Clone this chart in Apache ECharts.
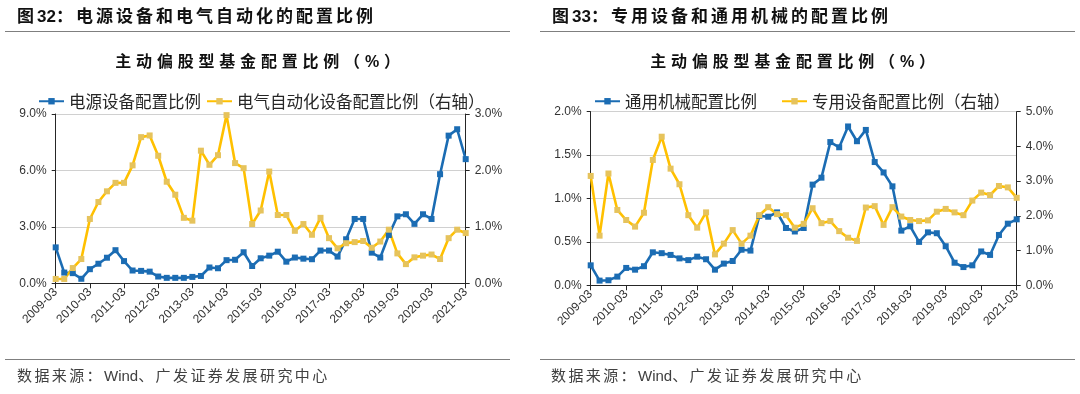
<!DOCTYPE html>
<html><head><meta charset="utf-8">
<script src="https://cdn.jsdelivr.net/npm/echarts@6/dist/echarts.min.js"></script>
<style>
html,body{margin:0;padding:0;background:#fff;}
#wrap{position:relative;width:1080px;height:394px;overflow:hidden;background:#fff;}
#chart{position:absolute;left:0;top:0;width:1080px;height:394px;}
.t{position:absolute;font-family:"Liberation Sans","Noto Sans CJK SC",sans-serif;font-weight:bold;font-size:17px;letter-spacing:3px;color:#111;white-space:nowrap;line-height:20px;}
.s{position:absolute;font-family:"Liberation Sans","Noto Sans CJK SC",sans-serif;font-weight:bold;font-size:16px;letter-spacing:4.8px;color:#111;white-space:nowrap;line-height:20px;transform:translateX(-50%);}
.src{position:absolute;font-family:"Liberation Sans","Noto Sans CJK SC",sans-serif;font-size:15px;letter-spacing:2.4px;color:#404040;white-space:nowrap;line-height:20px;}
.n{letter-spacing:0;}
.hl{position:absolute;height:1px;background:#7f7f7f;}
</style></head>
<body>
<div id="wrap">
<div id="chart"></div>
<div class="t" style="left:17px;top:7px;">图<span class="n">32</span>：电源设备和电气自动化的配置比例</div>
<div class="t" style="left:552px;top:7px;">图<span class="n">33</span>：专用设备和通用机械的配置比例</div>
<div class="hl" style="left:5px;width:505px;top:31px;"></div>
<div class="hl" style="left:540px;width:535px;top:31px;"></div>
<div class="s" style="left:260px;top:52px;">主动偏股型基金配置比例（%）</div>
<div class="s" style="left:795px;top:52px;">主动偏股型基金配置比例（%）</div>
<div class="hl" style="left:5px;width:505px;top:359px;"></div>
<div class="hl" style="left:540px;width:535px;top:359px;"></div>
<div class="src" style="left:17px;top:366px;">数据来源：<span class="n">Wind</span>、广发证券发展研究中心</div>
<div class="src" style="left:551px;top:366px;">数据来源：<span class="n">Wind</span>、广发证券发展研究中心</div>
</div>
<script>
const categories = [
 "2009-03","2009-06","2009-09","2009-12","2010-03","2010-06","2010-09","2010-12",
 "2011-03","2011-06","2011-09","2011-12","2012-03","2012-06","2012-09","2012-12",
 "2013-03","2013-06","2013-09","2013-12","2014-03","2014-06","2014-09","2014-12",
 "2015-03","2015-06","2015-09","2015-12","2016-03","2016-06","2016-09","2016-12",
 "2017-03","2017-06","2017-09","2017-12","2018-03","2018-06","2018-09","2018-12",
 "2019-03","2019-06","2019-09","2019-12","2020-03","2020-06","2020-09","2020-12",
 "2021-03"];

// Chart 32 (left): values in %
const powerEquip = [1.91,0.57,0.54,0.24,0.75,1.04,1.36,1.76,1.18,0.68,0.66,0.62,0.36,0.29,0.29,0.29,
 0.34,0.39,0.84,0.80,1.23,1.25,1.65,0.92,1.33,1.47,1.68,1.15,1.37,1.31,1.28,1.74,
 1.74,1.42,2.34,3.42,3.42,1.63,1.37,2.57,3.56,3.67,3.16,3.67,3.42,5.80,7.85,8.19,6.60];
const electricAuto = [0.077,0.077,0.27,0.43,1.14,1.44,1.63,1.78,1.78,2.09,2.59,2.62,2.26,1.80,1.57,1.16,
 1.11,2.35,2.10,2.27,2.98,2.13,2.04,1.05,1.29,1.98,1.21,1.21,0.93,1.05,0.86,1.16,
 0.80,0.62,0.71,0.73,0.75,0.63,0.74,0.95,0.53,0.34,0.46,0.49,0.51,0.43,0.80,0.95,0.89];

// Chart 33 (right): values in %
const genMach = [0.23,0.054,0.058,0.10,0.20,0.18,0.22,0.38,0.37,0.35,0.31,0.29,0.33,0.30,0.18,0.25,
 0.28,0.41,0.40,0.80,0.79,0.84,0.66,0.62,0.66,1.16,1.24,1.65,1.59,1.83,1.66,1.79,
 1.42,1.30,1.14,0.63,0.68,0.50,0.61,0.60,0.45,0.26,0.21,0.23,0.39,0.35,0.58,0.71,0.76];
const specEquip = [3.15,1.43,3.22,2.17,1.88,1.69,2.09,3.61,4.28,3.36,2.91,2.02,1.66,2.10,0.89,1.20,
 1.59,1.20,1.43,2.02,2.25,2.05,2.02,1.66,1.77,2.22,1.79,1.85,1.56,1.37,1.28,2.24,
 2.28,1.74,2.25,1.98,1.88,1.85,1.87,2.12,2.20,2.10,2.02,2.44,2.67,2.60,2.86,2.82,2.52];

const names = ["电源设备配置比例","电气自动化设备配置比例（右轴）","通用机械配置比例","专用设备配置比例（右轴）"];

const BLUE = "#1b6cb3", YEL = "#ffc000", YELM = "#e6c35c";
const FONT = "'Liberation Sans','Noto Sans CJK SC',sans-serif";
const CJK = "'Noto Sans CJK SC',sans-serif";
const AXC = "#262626";

function xAxis(gi){
  return {type:'category', gridIndex:gi, data:categories, boundaryGap:false,
    axisLine:{lineStyle:{color:AXC,width:1}},
    axisTick:{show:true, interval:3, length:5, inside:false, lineStyle:{color:AXC}},
    axisLabel:{interval:3, rotate:45, fontSize:12, color:'#333', fontFamily:FONT, margin:7},
    splitLine:{show:false}};
}
function yAxis(gi, max, interval, pos, split){
  return {type:'value', gridIndex:gi, min:0, max:max, interval:interval, position:pos,
    axisLine:{show:true, lineStyle:{color:AXC,width:1}},
    axisTick:{show:true, length:4, lineStyle:{color:AXC}},
    axisLabel:{fontSize:12, color:'#333', fontFamily:FONT, margin:9, formatter:v=>v.toFixed(1)+'%'},
    splitLine:{show:split, lineStyle:{color:'#d0d0d0', width:1}}};
}
function line(name, xi, yi, data, color, mcolor){
  return {name:name, type:'line', xAxisIndex:xi, yAxisIndex:yi, data:data,
    symbol:'rect', symbolSize:6, showSymbol:true, showAllSymbol:true,
    lineStyle:{color:color, width:2.6},
    itemStyle:{color:mcolor, borderWidth:0},
    emphasis:{disabled:true}, animation:false};
}

const option = {
  animation:false,
  grid:[
    {left:55.7, top:114, width:410, height:169.3, containLabel:false},
    {left:590.7, top:111.7, width:426, height:173.6, containLabel:false}
  ],
  legend:[
    {data:[names[0],names[1]], left:33, top:88, itemWidth:25, itemHeight:8, itemGap:5,
     textStyle:{fontSize:16.5, color:'#262626', fontFamily:CJK}},
    {data:[names[2],names[3]], left:589, top:88, itemWidth:25, itemHeight:8, itemGap:24,
     textStyle:{fontSize:16.5, color:'#262626', fontFamily:CJK}}
  ],
  xAxis:[xAxis(0), xAxis(1)],
  yAxis:[
    yAxis(0, 9, 3, 'left', true),
    yAxis(0, 3, 1, 'right', false),
    yAxis(1, 2, 0.5, 'left', true),
    yAxis(1, 5, 1, 'right', false)
  ],
  series:[
    line(names[0], 0, 0, powerEquip, BLUE, BLUE),
    line(names[1], 0, 1, electricAuto, YEL, YELM),
    line(names[2], 1, 2, genMach, BLUE, BLUE),
    line(names[3], 1, 3, specEquip, YEL, YELM)
  ]
};
const chart = echarts.init(document.getElementById('chart'), null, {renderer:'canvas'});
chart.setOption(option);
</script>
</body></html>
